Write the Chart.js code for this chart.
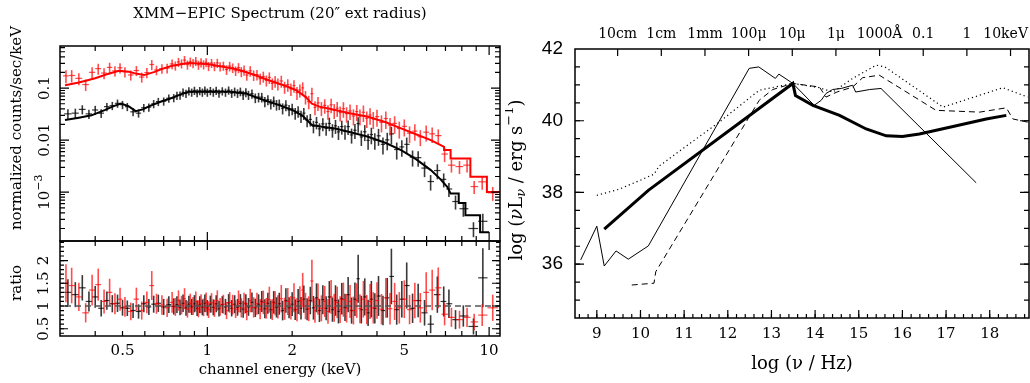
<!DOCTYPE html>
<html>
<head>
<meta charset="utf-8">
<script src="https://cdn.jsdelivr.net/npm/chart.js@4.4.0/dist/chart.umd.min.js"></script>
<style>
  body { margin: 0; background: #fff; width: 1030px; height: 383px; overflow: hidden; position: relative; }
  canvas { position: absolute; }
  #spec { left: 0; top: 0; }
  #ratio { left: 0; top: 236px; }
  #sed { left: 505px; top: 0; }
</style>
</head>
<body>
<canvas id="spec" width="505" height="246"></canvas>
<canvas id="ratio" width="505" height="147"></canvas>
<canvas id="sed" width="525" height="383"></canvas>
<script>
// ---- left panel: XMM-EPIC spectrum (black = pn, red = MOS) ----
const bE = [0.32, 0.34, 0.36, 0.38, 0.40, 0.42, 0.44, 0.46, 0.48, 0.50,
            0.52, 0.545, 0.57, 0.595, 0.62, 0.645, 0.67, 0.70, 0.73, 0.76,
            0.78, 0.80, 0.82, 0.84, 0.86, 0.88, 0.90, 0.92, 0.94, 0.96,
            0.98, 1.00, 1.025, 1.05, 1.075, 1.10, 1.13, 1.16, 1.19, 1.22,
            1.25, 1.28, 1.31, 1.34, 1.37, 1.40, 1.44, 1.48, 1.52, 1.56,
            1.60, 1.64, 1.68, 1.72, 1.76, 1.80, 1.85, 1.90, 1.95, 2.00,
            2.05, 2.10, 2.15, 2.20, 2.26, 2.32, 2.38, 2.44, 2.50, 2.57,
            2.64, 2.71, 2.78, 2.85, 2.92, 3.00, 3.08, 3.16, 3.25, 3.34,
            3.43, 3.52, 3.62, 3.72, 3.82, 3.93, 4.05, 4.20, 4.35, 4.50,
            4.70, 4.90, 5.10, 5.35, 5.60, 5.90, 6.20, 6.55, 6.90, 7.20,
            7.60, 8.10, 8.80, 9.50];
const bF = [0.032, 0.033, 0.039, 0.032, 0.038, 0.033, 0.044, 0.046, 0.051, 0.048,
            0.044, 0.035, 0.033, 0.042, 0.043, 0.050, 0.055, 0.056, 0.064, 0.065,
            0.072, 0.073, 0.083, 0.079, 0.088, 0.083, 0.090, 0.081, 0.089, 0.083,
            0.091, 0.083, 0.089, 0.083, 0.090, 0.080, 0.088, 0.083, 0.091, 0.080,
            0.086, 0.080, 0.086, 0.074, 0.083, 0.074, 0.078, 0.065, 0.067, 0.067,
            0.055, 0.060, 0.050, 0.056, 0.048, 0.049, 0.041, 0.047, 0.038, 0.040,
            0.033, 0.036, 0.029, 0.033, 0.024, 0.025, 0.0185, 0.022, 0.0165, 0.0205,
            0.0168, 0.0209, 0.0157, 0.0188, 0.0144, 0.0182, 0.0147, 0.0182, 0.0126, 0.0155,
            0.0208, 0.0115, 0.0145, 0.0099, 0.0128, 0.0100, 0.0121, 0.0083, 0.0101, 0.0132,
            0.0066, 0.0074, 0.0083, 0.0047, 0.0046, 0.0029, 0.0016, 0.0026, 0.00176, 0.00115,
            0.00066, 0.00048, 0.00020, 0.000275];
const bErr = [0.22, 0.22, 0.20, 0.20, 0.20, 0.19, 0.18, 0.18, 0.18, 0.18,
              0.18, 0.18, 0.18, 0.18, 0.18, 0.18, 0.18, 0.18, 0.18, 0.18,
              0.18, 0.18, 0.18, 0.18, 0.18, 0.18, 0.18, 0.18, 0.18, 0.18,
              0.18, 0.18, 0.18, 0.18, 0.18, 0.18, 0.18, 0.18, 0.18, 0.19,
              0.19, 0.19, 0.19, 0.20, 0.20, 0.20, 0.20, 0.21, 0.21, 0.21,
              0.22, 0.22, 0.22, 0.23, 0.23, 0.23, 0.24, 0.24, 0.24, 0.25,
              0.25, 0.25, 0.26, 0.26, 0.26, 0.27, 0.27, 0.27, 0.28, 0.28,
              0.28, 0.29, 0.29, 0.30, 0.30, 0.30, 0.31, 0.31, 0.32, 0.32,
              0.33, 0.33, 0.34, 0.34, 0.35, 0.35, 0.36, 0.36, 0.37, 0.37,
              0.36, 0.35, 0.35, 0.34, 0.33, 0.33, 0.33, 0.32, 0.30, 0.30,
              0.30, 0.30, 0.32, 0.40];
const bR = [1.30, 1.25, 1.40, 1.10, 1.20, 0.95, 1.12, 1.05, 1.06, 0.96,
            0.95, 0.90, 0.88, 1.05, 0.98, 1.04, 1.06, 0.98, 1.03, 0.99,
            1.03, 0.97, 1.06, 0.96, 1.04, 0.98, 1.05, 0.95, 1.03, 0.97,
            1.06, 0.96, 1.04, 0.97, 1.05, 0.94, 1.03, 0.98, 1.07, 0.95,
            1.04, 0.97, 1.06, 0.93, 1.05, 0.98, 1.08, 0.96, 1.04, 1.10,
            0.94, 1.06, 0.92, 1.08, 0.97, 1.05, 0.90, 1.12, 0.96, 1.04,
            0.92, 1.10, 0.95, 1.15, 0.93, 1.12, 0.96, 1.18, 0.90, 1.14,
            0.95, 1.20, 0.92, 1.12, 0.88, 1.16, 0.97, 1.25, 0.90, 1.15,
            1.60, 0.92, 1.20, 0.85, 1.15, 0.95, 1.22, 0.90, 1.18, 1.65,
            0.92, 1.15, 1.45, 0.95, 1.12, 0.85, 0.60, 1.25, 1.10, 1.05,
            0.70, 0.78, 0.55, 1.62];

const rE = [0.315, 0.33, 0.35, 0.37, 0.39, 0.41, 0.43, 0.45, 0.47, 0.49,
            0.51, 0.535, 0.56, 0.585, 0.61, 0.635, 0.66, 0.69, 0.72, 0.75,
            0.77, 0.79, 0.81, 0.83, 0.85, 0.87, 0.89, 0.91, 0.93, 0.95,
            0.97, 0.99, 1.01, 1.035, 1.06, 1.085, 1.11, 1.14, 1.17, 1.20,
            1.23, 1.26, 1.29, 1.32, 1.35, 1.38, 1.42, 1.46, 1.50, 1.54,
            1.58, 1.62, 1.66, 1.70, 1.74, 1.78, 1.83, 1.88, 1.93, 1.98,
            2.03, 2.08, 2.13, 2.18, 2.23, 2.29, 2.35, 2.41, 2.47, 2.54,
            2.61, 2.68, 2.75, 2.82, 2.89, 2.96, 3.04, 3.12, 3.21, 3.30,
            3.39, 3.48, 3.58, 3.68, 3.78, 3.88, 4.00, 4.15, 4.30, 4.45,
            4.62, 4.80, 5.00, 5.22, 5.45, 5.70, 5.98, 6.28, 6.60, 6.95,
            7.35, 7.85, 8.35, 8.85, 9.45, 10.30];
const rF = [0.172, 0.175, 0.154, 0.117, 0.201, 0.237, 0.195, 0.250, 0.215, 0.246,
            0.206, 0.179, 0.218, 0.163, 0.199, 0.284, 0.223, 0.238, 0.242, 0.292,
            0.271, 0.318, 0.297, 0.346, 0.283, 0.322, 0.302, 0.331, 0.281, 0.312,
            0.285, 0.314, 0.265, 0.303, 0.264, 0.305, 0.261, 0.269, 0.227, 0.265,
            0.246, 0.216, 0.248, 0.208, 0.222, 0.178, 0.215, 0.178, 0.182, 0.152,
            0.167, 0.141, 0.160, 0.123, 0.136, 0.121, 0.137, 0.105, 0.117, 0.097,
            0.112, 0.082, 0.092, 0.101, 0.068, 0.055, 0.078, 0.0428, 0.052, 0.0414,
            0.0466, 0.0357, 0.0478, 0.0374, 0.0411, 0.0337, 0.0402, 0.0323, 0.0363, 0.0291,
            0.0354, 0.0290, 0.0343, 0.0263, 0.0304, 0.0255, 0.0283, 0.0220, 0.0260, 0.0194,
            0.0210, 0.0167, 0.0184, 0.0136, 0.0149, 0.0116, 0.0142, 0.0132, 0.0122, 0.0054,
            0.0033, 0.0031, 0.0033, 0.00128, 0.00158, 0.00097];
const rErr = [0.28, 0.27, 0.26, 0.25, 0.25, 0.24, 0.24, 0.23, 0.22, 0.22,
              0.22, 0.22, 0.22, 0.22, 0.22, 0.22, 0.21, 0.21, 0.21, 0.21,
              0.20, 0.20, 0.20, 0.20, 0.20, 0.20, 0.20, 0.20, 0.20, 0.20,
              0.20, 0.20, 0.20, 0.20, 0.20, 0.20, 0.20, 0.20, 0.21, 0.21,
              0.21, 0.21, 0.22, 0.22, 0.22, 0.22, 0.23, 0.23, 0.23, 0.24,
              0.24, 0.24, 0.25, 0.25, 0.25, 0.26, 0.26, 0.26, 0.27, 0.27,
              0.27, 0.28, 0.28, 0.28, 0.29, 0.29, 0.30, 0.30, 0.30, 0.30,
              0.31, 0.31, 0.31, 0.32, 0.32, 0.32, 0.33, 0.33, 0.33, 0.34,
              0.34, 0.34, 0.35, 0.35, 0.35, 0.36, 0.36, 0.36, 0.37, 0.37,
              0.37, 0.36, 0.36, 0.35, 0.35, 0.34, 0.34, 0.33, 0.32, 0.30,
              0.28, 0.28, 0.28, 0.28, 0.30, 0.30];
const rR = [1.50, 1.45, 1.20, 0.85, 1.35, 1.47, 1.10, 1.30, 1.05, 1.15,
            0.98, 0.88, 1.15, 0.90, 1.08, 1.45, 1.05, 1.02, 0.96, 1.08,
            0.98, 1.12, 1.02, 1.16, 0.93, 1.06, 1.00, 1.10, 0.94, 1.05,
            0.97, 1.08, 0.92, 1.07, 0.95, 1.12, 0.98, 1.04, 0.90, 1.08,
            1.03, 0.93, 1.10, 0.96, 1.06, 0.88, 1.12, 0.97, 1.05, 0.93,
            1.08, 0.95, 1.14, 0.92, 1.06, 0.98, 1.16, 0.94, 1.10, 0.96,
            1.18, 0.92, 1.12, 1.35, 1.00, 0.94, 1.55, 0.90, 1.15, 0.95,
            1.10, 0.88, 1.20, 0.96, 1.08, 0.92, 1.14, 0.95, 1.10, 0.90,
            1.12, 0.94, 1.15, 0.92, 1.10, 0.96, 1.12, 0.93, 1.18, 0.94,
            1.10, 0.96, 1.15, 0.92, 1.12, 0.96, 1.30, 1.35, 1.40, 0.82,
            0.75, 0.70, 0.75, 0.65, 0.80, 0.96];

// folded model curves (step at the coarse high-energy bins)
const bModelE = [0.3125, 0.35, 0.388, 0.432, 0.465, 0.494, 0.525, 0.557, 0.59, 0.629,
                 0.69, 0.74, 0.80, 0.858, 1.0, 1.2, 1.37, 1.53, 1.80, 2.0,
                 2.17, 2.35, 2.55, 2.84, 3.17, 3.72, 4.3, 4.87, 5.5, 6.21,
                 6.7, 7.1, 7.3, 7.8, 7.8, 8.24, 8.24, 9.29, 9.29, 10.0];
const bModelF = [0.0243, 0.027, 0.030, 0.0378, 0.045, 0.0507, 0.045, 0.036, 0.039, 0.046,
                 0.056, 0.063, 0.075, 0.085, 0.086, 0.085, 0.079, 0.063, 0.047, 0.038,
                 0.030, 0.0195, 0.018, 0.0168, 0.0145, 0.0116, 0.0088, 0.0064, 0.0043, 0.00265,
                 0.0018, 0.00127, 0.00094, 0.00094, 0.00062, 0.00062, 0.00036, 0.00036, 0.00017, 0.00017];
const rModelE = [0.3125, 0.35, 0.40, 0.44, 0.486, 0.527, 0.563, 0.596, 0.65, 0.70,
                 0.75, 0.855, 1.0, 1.27, 1.45, 1.66, 1.9, 2.06, 2.23, 2.35,
                 2.5, 2.69, 3.2, 3.72, 4.3, 4.87, 5.5, 6.21, 6.92, 6.92,
                 7.3, 7.3, 8.58, 8.58, 9.82, 9.82, 10.93];
const rModelF = [0.114, 0.128, 0.155, 0.185, 0.215, 0.206, 0.188, 0.178, 0.205, 0.24,
                 0.27, 0.305, 0.29, 0.23, 0.185, 0.14, 0.11, 0.092, 0.068, 0.05,
                 0.044, 0.0405, 0.033, 0.0282, 0.022, 0.0168, 0.013, 0.0100, 0.0074, 0.00645,
                 0.00645, 0.00445, 0.00445, 0.00197, 0.00197, 0.00101, 0.00101];
const unityE = [0.3125, 10.93];
const unityR = [1, 1];
const energyTicks = [0.5, 1, 2, 5, 10];

// ---- right panel: SEDs, log(nu L_nu) vs log(nu) ----
const nuThin = [8.63, 9.0, 9.17, 9.44, 9.72, 10.18, 12.49, 12.71, 13.09, 13.17, 13.49,
                13.98, 14.14, 14.25, 14.4, 14.6, 14.86, 14.93, 15.25, 15.51, 17.69];
const lumThin = [36.12, 37.06, 35.95, 36.37, 36.14, 36.51, 41.46, 41.50, 41.18, 41.30, 41.04,
                 40.43, 40.57, 40.76, 40.87, 40.90, 40.99, 40.80, 40.87, 40.90, 38.27];
const nuThick = [9.17, 10.18, 13.49, 13.55, 13.95, 14.56, 15.17, 15.63, 16.0, 16.39, 17.16, 17.92, 18.38];
const lumThick = [36.98, 38.06, 41.04, 40.70, 40.43, 40.15, 39.77, 39.58, 39.56, 39.63, 39.84, 40.05, 40.15];
const nuDash = [9.8, 10.31, 10.35, 12.72, 13.03, 13.49, 14.1, 14.25, 14.5, 14.86, 15.09,
                15.47, 16.77, 17.77, 18.38, 18.53, 18.87];
const lumDash = [35.42, 35.47, 35.79, 40.57, 40.87, 41.04, 40.94, 40.66, 40.80, 40.94, 41.20,
                 41.27, 40.29, 40.24, 40.36, 40.05, 39.96];
const nuDot = [9.0, 9.51, 10.05, 10.31, 10.43, 11.8, 12.72, 13.49, 14.1, 14.41, 14.86,
               15.4, 15.6, 16.93, 18.3, 18.87];
const lumDot = [37.92, 38.09, 38.37, 38.51, 38.74, 39.96, 40.85, 41.04, 40.92, 40.80, 41.18,
                41.55, 41.50, 40.38, 40.92, 40.66];
const nuTicks = [9, 10, 11, 12, 13, 14, 15, 16, 17, 18];
const lumTicks = [36, 38, 40, 42];
const bandTicks = [9.477, 10.477, 11.477, 12.477, 13.477, 14.477, 15.477, 16.477, 17.477, 18.477];
const bandLabels = ['10cm', '1cm', '1mm', '100\u03bc', '10\u03bc', '1\u03bc', '1000\u00c5', '0.1', '1', '10keV'];

const pts = (xs, ys) => xs.map((x, i) => ({x, y: ys[i]}));

Chart.defaults.font.family = 'DejaVu Serif';
Chart.defaults.color = '#000';

// minor tick helpers (positions only)
function logMinor(lo, hi) {
    const out = [];
    for (let d = lo; d <= hi; d++) {
        for (let m = 2; m <= 9; m++) out.push(m * Math.pow(10, d));
    }
    return out;
}
function linMinor(from, to, step) {
    const out = [];
    for (let v = from; v <= to + 1e-9; v += step) out.push(+v.toFixed(3));
    return out;
}

function richText(ctx, parts, cx, cy, rot) {
    const fontOf = p => (p.italic ? 'italic ' : '') + p.size + 'px ' + (p.family || 'DejaVu Serif');
    let total = 0;
    parts.forEach(p => { ctx.font = fontOf(p); p.w = ctx.measureText(p.t).width; total += p.w; });
    ctx.save();
    ctx.translate(cx, cy);
    ctx.rotate(rot);
    ctx.fillStyle = '#000';
    ctx.textBaseline = 'middle';
    ctx.textAlign = 'left';
    let x = -total / 2;
    parts.forEach(p => {
        ctx.font = fontOf(p);
        ctx.fillText(p.t, x, -(p.dy || 0));
        x += p.w;
    });
    ctx.restore();
}

// error bars go under the model lines
const errorBars = {
    id: 'errorBars',
    beforeDatasetsDraw(chart) {
        const {ctx, chartArea: a, scales: {x, y}} = chart;
        ctx.save();
        ctx.beginPath();
        ctx.rect(a.left, a.top, a.right - a.left, a.bottom - a.top);
        ctx.clip();
        chart.data.datasets.forEach(ds => {
            if (!ds.err) return;
            const d = ds.data;
            ctx.strokeStyle = ds.barColor;
            d.forEach((p, i) => {
                const prev = i > 0 ? d[i - 1].x : p.x * p.x / d[i + 1].x;
                const next = i < d.length - 1 ? d[i + 1].x : p.x * p.x / d[i - 1].x;
                const lo = Math.sqrt(prev * p.x), hi = Math.sqrt(p.x * next);
                const px = x.getPixelForValue(p.x), py = y.getPixelForValue(p.y);
                const e = ds.err[i] * p.y;
                ctx.lineWidth = 1.6;
                ctx.beginPath();
                ctx.moveTo(px, y.getPixelForValue(p.y + e));
                ctx.lineTo(px, y.getPixelForValue(Math.max(p.y - e, 1e-6)));
                ctx.stroke();
                ctx.lineWidth = 1.2;
                ctx.beginPath();
                ctx.moveTo(x.getPixelForValue(lo), py);
                ctx.lineTo(x.getPixelForValue(hi), py);
                ctx.stroke();
            });
        });
        ctx.restore();
    }
};

// box, inward ticks, rotated labels
const frame = {
    id: 'frame',
    afterDraw(chart, args, o) {
        const {ctx, chartArea: a} = chart;
        const xs = chart.scales.x, ys = chart.scales.y;
        ctx.save();
        ctx.strokeStyle = '#000';
        ctx.lineWidth = 1.2;
        (o.ticks || []).forEach(([edge, vals, len]) => {
            ctx.beginPath();
            vals.forEach(v => {
                if (edge === 'top' || edge === 'bottom') {
                    const px = xs.getPixelForValue(v);
                    if (px < a.left + 1 || px > a.right - 1) return;
                    const y0 = edge === 'top' ? a.top : a.bottom;
                    ctx.moveTo(px, y0);
                    ctx.lineTo(px, y0 + (edge === 'top' ? len : -len));
                } else {
                    const py = ys.getPixelForValue(v);
                    if (py < a.top + 1 || py > a.bottom - 1) return;
                    const x0 = edge === 'left' ? a.left : a.right;
                    ctx.moveTo(x0, py);
                    ctx.lineTo(x0 + (edge === 'left' ? len : -len), py);
                }
            });
            ctx.stroke();
        });
        ctx.lineWidth = 1.5;
        ctx.strokeRect(a.left, a.top, a.right - a.left, a.bottom - a.top);
        (o.yLabels || []).forEach(l => richText(ctx, l.parts, o.yLabelX, ys.getPixelForValue(l.v), -Math.PI / 2));
        if (o.topLabels) {
            // band labels along the top axis, kept inside the canvas
            ctx.font = o.topLabels.size + 'px DejaVu Serif';
            ctx.fillStyle = '#000';
            ctx.textBaseline = 'alphabetic';
            ctx.textAlign = 'center';
            o.topLabels.vals.forEach((v, i) => {
                const t = o.topLabels.text[i];
                const w = ctx.measureText(t).width;
                const px = Math.min(xs.getPixelForValue(v), chart.width - w / 2 - 2);
                ctx.fillText(t, px, o.topLabels.y);
            });
        }
        (o.texts || []).forEach(t => richText(ctx, t.parts, t.x, t.y, t.rot || 0));
        ctx.restore();
    }
};

const eMinor = logMinor(-1, 0);
const base = {
    responsive: false,
    animation: false,
    devicePixelRatio: 1,
    events: []
};
const noEdgePadding = s => { s.paddingLeft = 0; s.paddingRight = 0; };

new Chart(document.getElementById('spec'), {
    type: 'line',
    data: {
        datasets: [
            {label: 'pn', data: pts(bE, bF), err: bErr, barColor: 'rgba(0,0,0,0.78)', showLine: false, pointRadius: 0},
            {label: 'MOS', data: pts(rE, rF), err: rErr, barColor: 'rgba(255,0,0,0.7)', showLine: false, pointRadius: 0},
            {label: 'pn model', data: pts(bModelE, bModelF), borderColor: '#000', borderWidth: 2, pointRadius: 0},
            {label: 'MOS model', data: pts(rModelE, rModelF), borderColor: '#ff0000', borderWidth: 2, pointRadius: 0}
        ]
    },
    options: {
        ...base,
        layout: {padding: {left: 60, right: 5, top: 46, bottom: 5}},
        plugins: {
            legend: {display: false},
            tooltip: {enabled: false},
            frame: {
                ticks: [
                    ['top', eMinor, 5], ['top', [1, 10], 9],
                    ['bottom', eMinor, 5], ['bottom', [1, 10], 9],
                    ['left', logMinor(-4, -1), 5], ['left', [1e-3, 1e-2, 1e-1], 9],
                    ['right', logMinor(-4, -1), 5], ['right', [1e-3, 1e-2, 1e-1], 9]
                ],
                yLabelX: 45,
                yLabels: [
                    {v: 0.1, parts: [{t: '0.1', size: 15}]},
                    {v: 0.01, parts: [{t: '0.01', size: 15}]},
                    {v: 0.001, parts: [{t: '10', size: 15}, {t: '\u22123', size: 11, dy: 6}]}
                ],
                texts: [
                    {x: 280, y: 14, parts: [{t: 'XMM\u2212EPIC Spectrum (20\u2033 ext radius)', size: 15}]},
                    {x: 17, y: 128, rot: -Math.PI / 2, parts: [{t: 'normalized counts/sec/keV', size: 15}]}
                ]
            }
        },
        scales: {
            x: {type: 'logarithmic', min: 0.3125, max: 10.93, display: false},
            y: {type: 'logarithmic', min: 1.15e-4, max: 0.645, display: false}
        }
    },
    plugins: [errorBars, frame]
});

new Chart(document.getElementById('ratio'), {
    type: 'line',
    data: {
        datasets: [
            {label: 'pn ratio', data: pts(bE, bR), err: bErr, barColor: 'rgba(0,0,0,0.78)', showLine: false, pointRadius: 0},
            {label: 'MOS ratio', data: pts(rE, rR), err: rErr, barColor: 'rgba(255,0,0,0.7)', showLine: false, pointRadius: 0},
            {label: 'unity', data: pts(unityE, unityR), borderColor: '#555', borderWidth: 1.5, borderDash: [6, 4], pointRadius: 0}
        ]
    },
    options: {
        ...base,
        layout: {padding: {left: 60, right: 5, top: 5, bottom: 0}},
        plugins: {
            legend: {display: false},
            tooltip: {enabled: false},
            frame: {
                ticks: [
                    ['top', eMinor, 5], ['top', [1, 10], 9],
                    ['bottom', eMinor, 5], ['bottom', [1, 10], 9],
                    ['left', linMinor(0.4, 2.4, 0.1), 4], ['left', [0.5, 1, 1.5, 2], 8],
                    ['right', linMinor(0.4, 2.4, 0.1), 4], ['right', [0.5, 1, 1.5, 2], 8]
                ],
                yLabelX: 44,
                yLabels: [
                    {v: 0.5, parts: [{t: '0.5', size: 15}]},
                    {v: 1, parts: [{t: '1', size: 15}]},
                    {v: 1.5, parts: [{t: '1.5', size: 15}]},
                    {v: 2, parts: [{t: '2', size: 15}]}
                ],
                texts: [
                    {x: 17, y: 47, rot: -Math.PI / 2, parts: [{t: 'ratio', size: 15}]}
                ]
            }
        },
        scales: {
            x: {
                type: 'logarithmic', min: 0.3125, max: 10.93,
                grid: {display: false, drawTicks: false},
                border: {display: false},
                afterBuildTicks: s => { s.ticks = energyTicks.map(v => ({value: v})); },
                afterFit: s => { s.height = 47; noEdgePadding(s); },
                ticks: {autoSkip: false, maxRotation: 0, minRotation: 0, padding: 6, font: {size: 15},
                        callback: v => String(v)},
                title: {display: true, text: 'channel energy (keV)', font: {size: 15}, padding: {top: 0, bottom: 4}}
            },
            y: {type: 'linear', min: 0.34, max: 2.43, display: false}
        }
    },
    plugins: [errorBars, frame]
});

new Chart(document.getElementById('sed'), {
    type: 'line',
    data: {
        datasets: [
            {label: 'thin', data: pts(nuThin, lumThin), borderColor: '#000', borderWidth: 1, pointRadius: 0},
            {label: 'thick', data: pts(nuThick, lumThick), borderColor: '#000', borderWidth: 3, pointRadius: 0},
            {label: 'dashed', data: pts(nuDash, lumDash), borderColor: '#000', borderWidth: 1, borderDash: [6, 4], pointRadius: 0},
            {label: 'dotted', data: pts(nuDot, lumDot), borderColor: '#000', borderWidth: 1.2, borderDash: [1.2, 3], pointRadius: 0}
        ]
    },
    options: {
        ...base,
        layout: {padding: {left: 0, right: 1, top: 49, bottom: 0}},
        plugins: {
            legend: {display: false},
            tooltip: {enabled: false},
            frame: {
                ticks: [
                    ['bottom', linMinor(8.6, 18.8, 0.2), 4], ['bottom', nuTicks, 8],
                    ['top', bandTicks, 7],
                    ['left', linMinor(34.5, 42, 0.5), 5], ['left', lumTicks, 9],
                    ['right', linMinor(34.5, 42, 0.5), 5], ['right', lumTicks, 9]
                ],
                topLabels: {vals: bandTicks, text: bandLabels, size: 14, y: 38},
                texts: [
                    {x: 12, y: 180, rot: -Math.PI / 2, parts: [
                        {t: 'log (', size: 18},
                        {t: '\u03bd', size: 18, italic: true},
                        {t: 'L', size: 18},
                        {t: '\u03bd', size: 13, italic: true, dy: -5},
                        {t: ' / erg s', size: 18},
                        {t: '\u22121', size: 13, dy: 7},
                        {t: ')', size: 18}
                    ]}
                ]
            }
        },
        scales: {
            x: {
                type: 'linear', position: 'bottom', min: 8.5, max: 18.9,
                grid: {display: false, drawTicks: false},
                border: {display: false},
                afterBuildTicks: s => { s.ticks = nuTicks.map(v => ({value: v})); },
                afterFit: s => { s.height = 65; noEdgePadding(s); },
                ticks: {autoSkip: false, maxRotation: 0, minRotation: 0, padding: 7, font: {size: 15}},
                title: {display: true, text: 'log (\u03bd / Hz)', font: {size: 18}, padding: {top: 0, bottom: 8}}
            },
            y: {
                type: 'linear', min: 34.5, max: 42,
                grid: {display: false, drawTicks: false},
                border: {display: false},
                afterBuildTicks: s => { s.ticks = lumTicks.map(v => ({value: v})); },
                afterFit: s => { s.width = 70; },
                ticks: {padding: 12, font: {size: 19, family: 'Liberation Sans'}}
            }
        }
    },
    plugins: [frame]
});
</script>
</body>
</html>
